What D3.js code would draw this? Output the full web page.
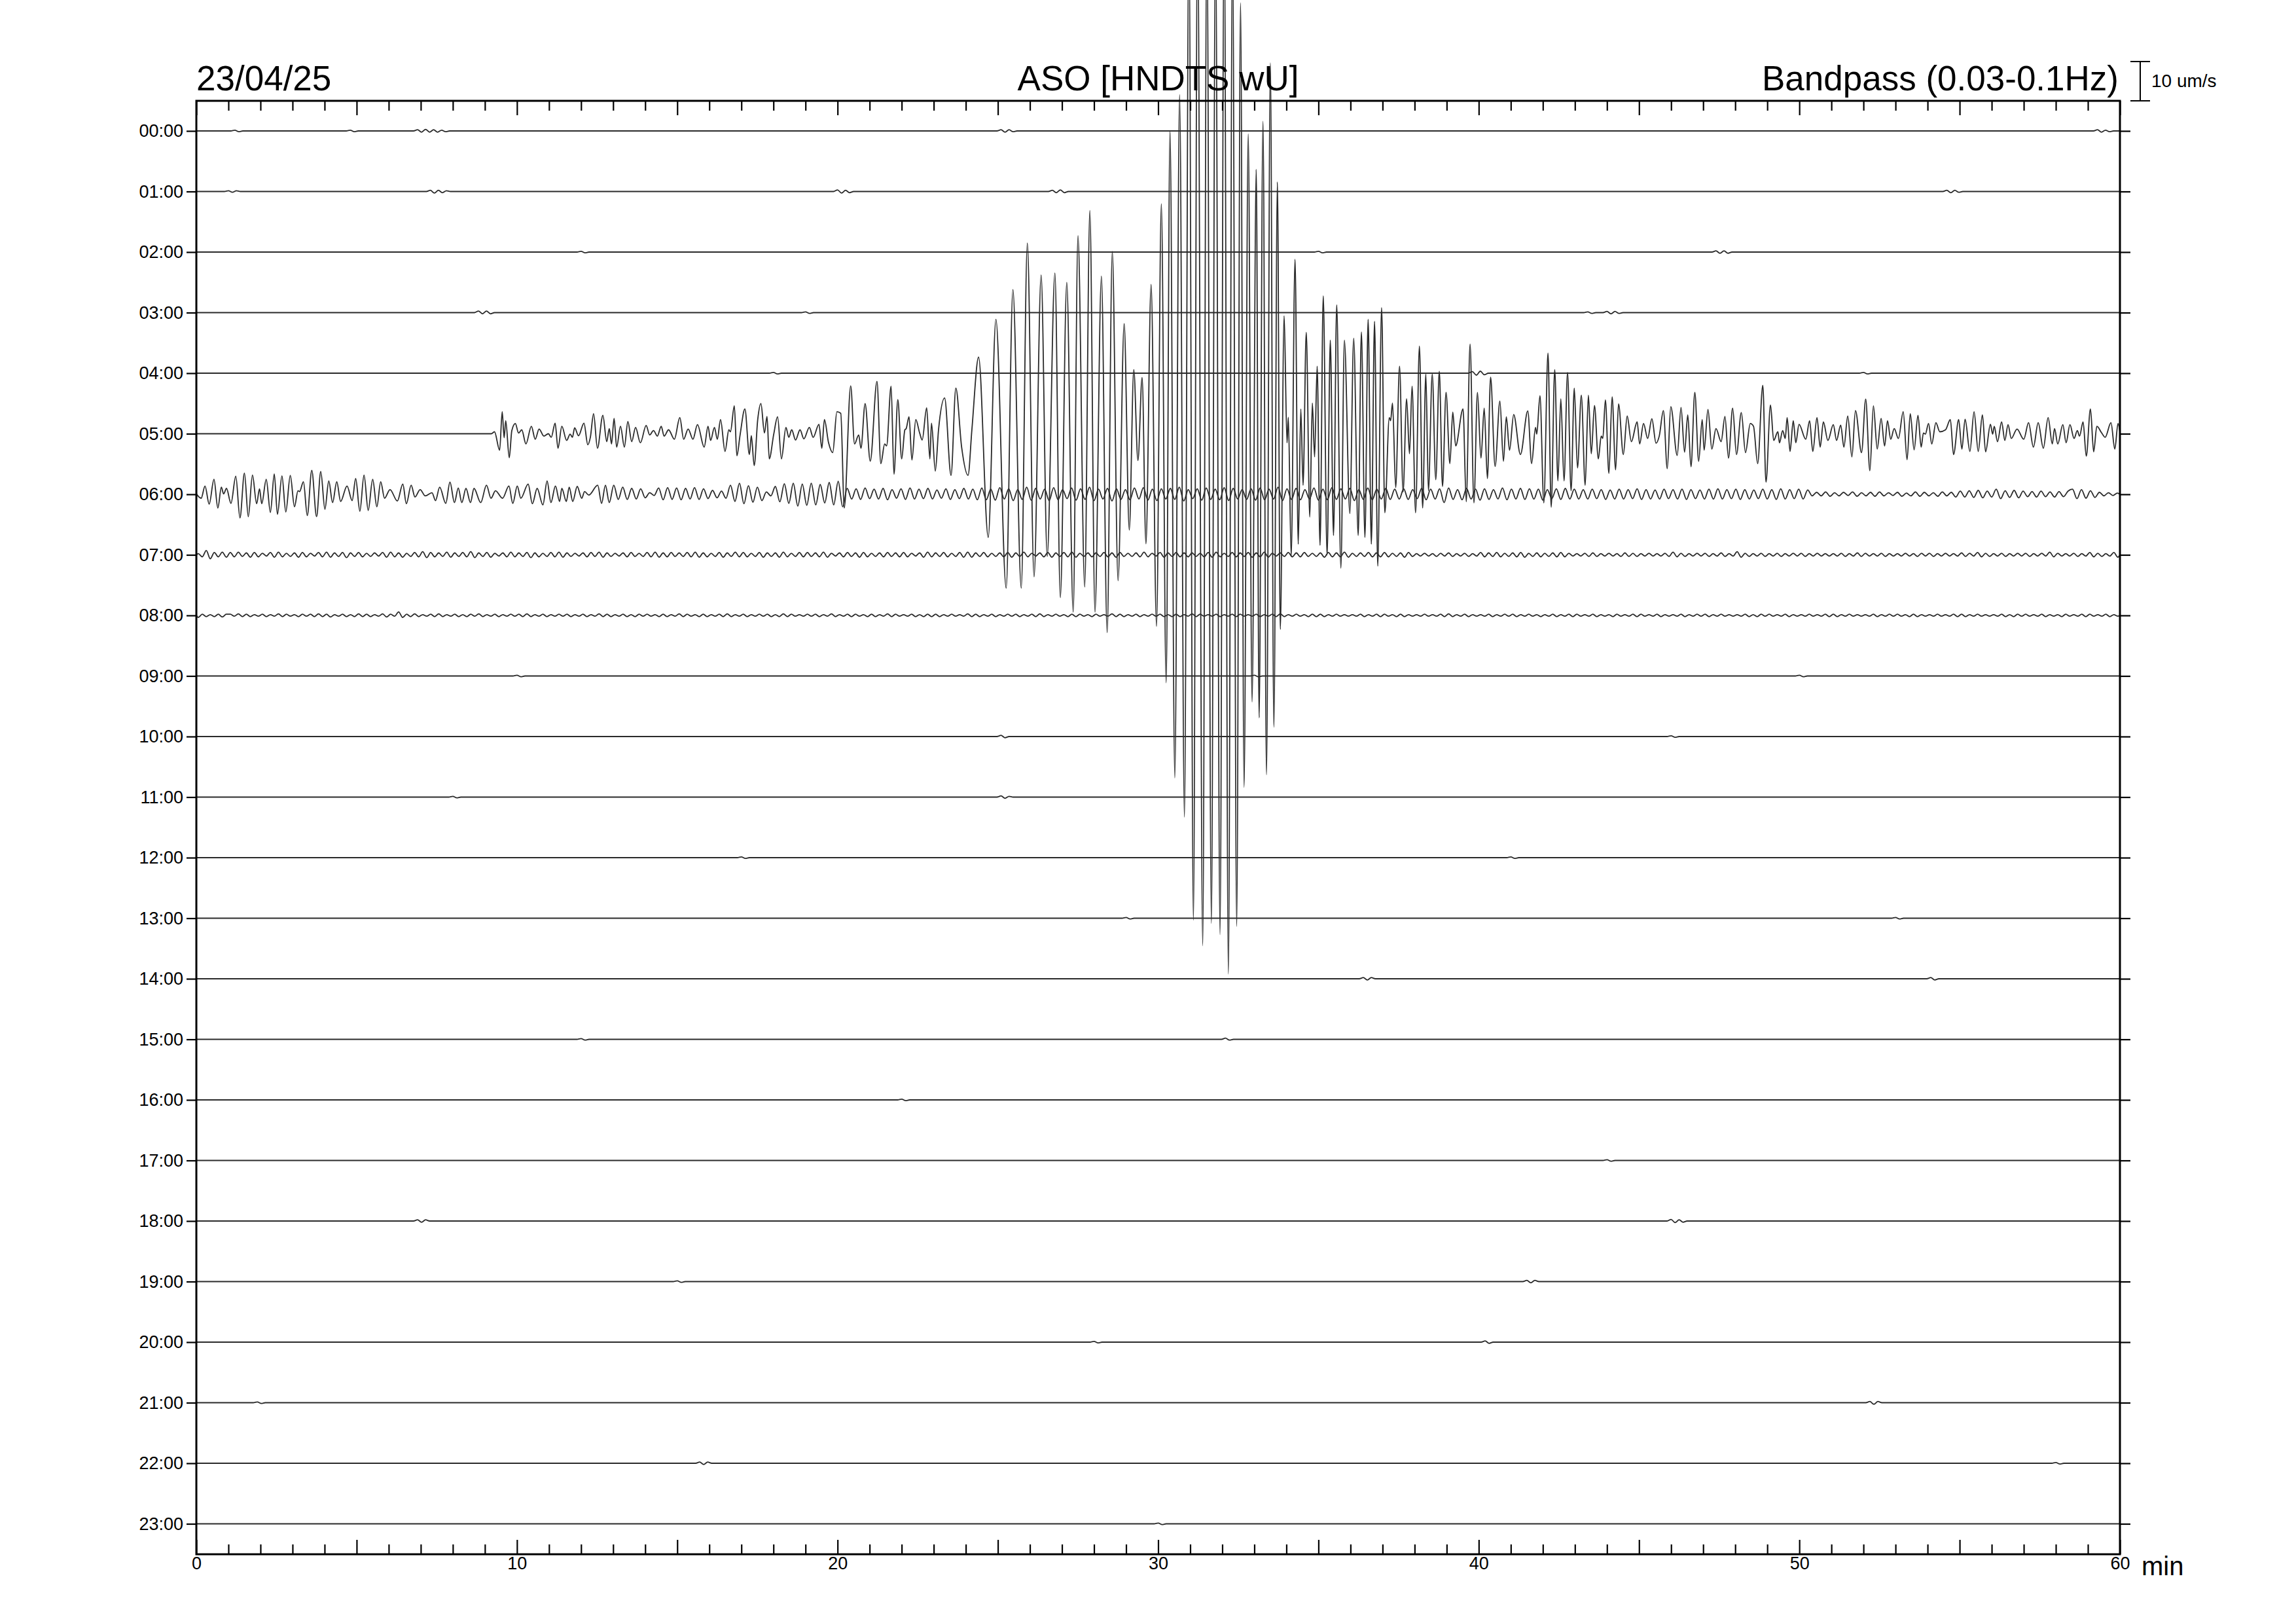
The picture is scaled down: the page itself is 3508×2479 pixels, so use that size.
<!DOCTYPE html>
<html><head><meta charset="utf-8">
<script src="https://cdn.jsdelivr.net/npm/d3@7"></script>
<style>html,body{margin:0;padding:0;background:#fff}svg{display:block}</style>
</head><body>
<svg id="c" width="3508" height="2479"></svg>
<script>
// ---------- texts ----------
const dateLabel = "23/04/25";
const stationLabel = "ASO [HNDTS wU]";
const filterLabel = "Bandpass (0.03-0.1Hz)";
const scaleLabel = "10 um/s";
const xUnitLabel = "min";
const hourLabels = ["00:00","01:00","02:00","03:00","04:00","05:00","06:00","07:00","08:00","09:00","10:00","11:00","12:00","13:00","14:00","15:00","16:00","17:00","18:00","19:00","20:00","21:00","22:00","23:00"];
const minuteLabels = [0,10,20,30,40,50,60];
const scaleBarValue = 10; // um/s

// ---------- 05:00 line: [minute, um/s] extrema ----------
const row05 = [[0,0],[9.2,0],[9.3,0.5],[9.46,-4.2],[9.54,5.6],[9.60,-1],[9.65,3.3],[9.76,-6.1],[9.84,0.8],[9.95,2.6],[10.05,0.2],[10.15,1.0],[10.28,-2.6],[10.45,1.9],[10.57,-1.4],[10.69,1.2],[10.84,-0.6],[10.98,0],[11.07,-0.9],[11.19,2.7],[11.28,-3.7],[11.40,1.9],[11.55,-1.7],[11.66,-0.1],[11.73,-0.9],[11.80,1.5],[11.92,-0.5],[12.09,2.7],[12.21,-2.8],[12.29,-0.9],[12.39,5.1],[12.51,-3.7],[12.68,4.7],[12.80,-2.0],[12.88,1.3],[12.95,-2.6],[13.03,3.9],[13.11,-3.4],[13.23,1.9],[13.35,-3.4],[13.46,3.1],[13.58,-2.0],[13.70,1.6],[13.85,-2.3],[14.03,2.1],[14.14,-0.3],[14.26,0.8],[14.38,-0.6],[14.50,1.9],[14.59,-0.6],[14.73,1.0],[14.91,-1.4],[15.08,4.1],[15.20,-1.4],[15.34,1.2],[15.49,-1.4],[15.63,2.3],[15.84,-3.4],[15.96,1.9],[16.04,-1.7],[16.16,1.6],[16.25,-1.4],[16.35,3.6],[16.49,-4.5],[16.61,1.0],[16.66,0.5],[16.78,7.1],[16.86,-5.6],[16.96,-0.3],[17.11,6.3],[17.25,-5.3],[17.31,-0.5],[17.40,-8.1],[17.51,3.6],[17.61,7.7],[17.72,0.2],[17.80,4.4],[17.87,-6.4],[18.01,-0.1],[18.13,4.3],[18.25,-6.4],[18.39,1.6],[18.48,-0.9],[18.57,1.0],[18.69,-1.6],[18.83,1.0],[18.95,-1.3],[19.12,1.6],[19.24,-0.9],[19.42,2.4],[19.51,-3.7],[19.59,3.6],[19.72,-2.3],[19.85,-4.8],[19.98,5.6],[20.10,5.2],[20.21,-18.9],[20.41,12.2],[20.53,-2.6],[20.66,-0.3],[20.73,-3.7],[20.86,7.7],[21.02,-7.0],[21.23,13.3],[21.35,-7.6],[21.47,-2.6],[21.53,-3.1],[21.67,12.1],[21.76,-10.3],[21.88,8.7],[22.00,-6.4],[22.10,1.0],[22.14,1.3],[22.23,4.3],[22.32,-6.7],[22.44,3.6],[22.56,0.2],[22.64,-1.6],[22.78,6.6],[22.88,-6.4],[22.93,2.7],[23.05,-9.5],[23.15,1.0],[23.34,9.1],[23.54,-10.6],[23.69,11.6],[23.87,-3.4],[24.07,-10.6],[24.19,1.0],[24.40,19.5],[24.70,-26.4],
[24.94,29.1],[25.26,-39.3],[25.47,36.7],[25.73,-39.3],[25.92,48.5],[26.13,-36.4],[26.35,40.4],[26.54,-31.2],[26.78,40.9],[26.95,-41.7],[27.15,38.5],[27.35,-45.4],[27.50,50.4],[27.71,-39.0],[27.87,56.8],[28.03,-45.4],[28.23,40.1],[28.41,-50.6],[28.57,46.4],[28.75,-37.4],[28.94,28.0],[29.10,-24.5],[29.24,16.3],[29.37,-6.8],[29.50,14.3],[29.62,-28.0],[29.78,38.0],[29.95,-49.0],[30.10,58.5],[30.25,-63.4],[30.37,77.1],[30.52,-87.6],[30.67,86.3],[30.82,-97.6],[30.96,128],[31.10,-123.8],[31.23,132],[31.39,-130.3],[31.52,130],[31.66,-124.6],[31.79,128],[31.93,-127.5],[32.06,132],[32.19,-137.5],[32.32,126],[32.45,-125.4],[32.57,109.7],[32.68,-90.0],[32.81,76.3],[32.93,-68.3],[33.06,67.3],[33.15,-72.3],[33.27,79.5],[33.38,-86.8],[33.50,94.4],[33.61,-74.7],[33.72,64.1],[33.81,-49.8],[33.93,30.0],[34.02,-2.3],[34.06,4.2],[34.15,-31.2],[34.27,44.4],[34.37,-28.1],
[34.45,6.3],[34.52,-13.1],[34.62,25.8],[34.73,-21.2],[34.81,7.8],[34.88,-5.9],[34.96,17.2],[35.05,-28.4],[35.15,35.1],[35.27,-30.9],[35.37,23.8],[35.47,-25.9],[35.57,32.8],[35.70,-34.2],[35.81,23.8],[35.98,-20.3],[36.10,24.3],[36.24,-25.9],[36.34,25.9],[36.45,-26.4],[36.55,29.1],[36.65,-28.1],[36.75,28.6],[36.85,-33.7],[36.97,32.1],[37.07,-20.1],[37.21,4.1],[37.25,3.3],[37.31,7.8],[37.41,-13.7],[37.53,17.2],[37.64,-14.8],[37.75,8.9],[37.84,-5.1],[37.92,12.1],[38.03,-20.1],[38.15,22.3],[38.25,-18.9],[38.35,15.2],[38.43,-14.5],[38.55,15.2],[38.66,-11.7],[38.77,15.9],[38.87,-13.4],[38.98,10.5],[39.10,-7.6],[39.19,5.5],[39.28,-3.1],[39.51,6.3],[39.61,-17.3],[39.73,22.8],[39.85,-17.6],[39.96,10.5],[40.07,-6.2],[40.17,6.5],[40.27,-11.4],[40.37,14.4],[40.51,-8.3],[40.66,8.3],[40.77,-7.0],[40.86,4.3],[40.96,-4.2],[41.09,4.9],[41.30,-5.3],[41.53,5.8],[41.65,-7.6],[41.77,1.6],[41.81,-0.1],[41.91,9.7],[42.03,-17.6],[42.16,20.5],[42.26,-18.7],[42.37,16.3],[42.47,-12.0],[42.56,8.9],[42.66,-12.0],[42.77,15.6],[42.88,-14.5],[42.98,11.6],[43.08,-8.7],[43.20,9.8],[43.32,-13.1],[43.42,9.8],[43.51,-5.1],[43.61,7.2],[43.73,-6.4],[43.82,-0.6],[43.87,-1.2],[43.95,8.6],[44.06,-10.1],[44.16,9.4],[44.27,-9.2],[44.36,7.6],[44.51,-5.3],
[44.63,4.5],[44.76,-2.0],[44.94,3.0],[45.02,-2.6],[45.14,2.6],[45.27,-1.2],[45.40,3.8],[45.53,-2.4],[45.63,-0.6],[45.76,5.9],[45.88,-8.9],[45.99,6.9],[46.19,-5.5],[46.31,6.7],[46.42,-4.7],[46.52,4.8],[46.62,-8.4],[46.74,10.5],[46.86,-7.0],[46.97,3.6],[47.03,-4.2],[47.15,6.2],[47.27,-3.9],[47.40,1.3],[47.56,-2.0],[47.68,4.4],[47.79,-6.2],[47.92,6.5],[48.04,-5.3],[48.19,5.4],[48.32,-4.8],[48.47,2.6],[48.57,1.9],[48.70,-7.6],[48.86,12.3],[48.96,-12.3],[49.10,7.3],[49.20,-1.7],[49.33,0.5],[49.38,-2.3],[49.48,0.8],[49.56,-1.2],[49.62,4.1],[49.71,-4.5],[49.81,3.3],[49.89,-2.3],[49.99,2.4],[50.20,-1.4],[50.32,3.3],[50.42,-4.5],[50.55,4.1],[50.65,-3.4],[50.75,3.0],[50.89,-1.7],[51.06,2.3],[51.16,-1.7],[51.29,2.2],[51.39,-3.4],[51.51,4.5],[51.64,-5.9],[51.75,5.9],[51.94,-4.8],[52.07,8.8],[52.20,-9.4],[52.31,7.1],[52.43,-3.9],[52.55,3.9],[52.66,-3.1],[52.75,3.3],[52.85,-1.4],[52.96,1.3],[53.09,-1.2],[53.24,5.6],[53.36,-6.6],[53.46,5.1],[53.58,-4.1],[53.70,4.7],[53.80,-3.4],[53.87,0.2],[53.93,-0.1],[54.03,2.6],[54.13,-2.6],[54.26,2.8],[54.38,0.5],[54.56,1.0],[54.71,3.6],[54.81,-5.3],[54.97,3.6],[55.07,-3.9],[55.17,3.7],[55.32,-4.5],[55.45,5.6],[55.58,-4.5],[55.71,4.8],[55.81,-4.6],[55.96,2.4],[56.03,-0.1],[56.08,1.9],[56.18,-2.0],[56.31,3.0],[56.41,-1.7],[56.51,2.3],[56.61,-1.2],[56.79,1.2],[57.00,-1.4],[57.15,2.8],[57.30,-3.4],[57.45,2.8],[57.61,-3.7],[57.76,4.1],[57.89,-2.6],[57.96,1.3],[58.06,-2.6],[58.22,2.3],[58.32,-2.3],[58.44,2.3],[58.57,-1.2],[58.67,0.8],[58.74,-0.6],[58.85,3.0],[58.95,-5.7],[59.08,6.3],[59.18,-4.6],[59.28,1.9],[59.43,0.2],[59.54,-0.9],[59.72,2.8],[59.84,-3.9],[59.94,2.6],[60,0.5]];

// ---------- 06:00 line, first 13 minutes: [minute, um/s] ----------
const row06a = [[0,0.1],[0.15,-1.0],[0.27,2.1],[0.40,-2.5],[0.55,3.8],[0.67,-3.5],[0.78,1.8],[0.85,0.1],[0.94,1.5],[1.08,-2.3],[1.23,4.6],[1.36,-6.0],[1.50,5.4],[1.62,-5.7],[1.75,4.9],[1.88,-2.4],[1.97,1.4],[2.04,-2.4],[2.18,3.8],[2.31,-4.6],[2.43,5.2],[2.53,-5.1],[2.67,4.7],[2.79,-4.5],[2.93,4.8],[3.06,-3.2],[3.17,0.9],[3.22,0.7],[3.34,3.2],[3.46,-5.4],[3.60,6.1],[3.75,-5.7],[3.88,5.8],[4.01,-3.8],[4.13,3.4],[4.25,-2.1],[4.38,3.2],[4.50,-1.8],[4.70,2.1],[4.86,-1.6],[4.97,4.0],[5.10,-4.3],[5.23,4.9],[5.36,-4.1],[5.50,3.8],[5.63,-3.2],[5.75,3.2],[5.87,-1.0],[6.04,1.2],[6.27,-1.7],[6.44,2.6],[6.55,-2.4],[6.70,2.3],[6.82,-0.7],[6.98,1.2],[7.14,-0.4],[7.35,0.4],[7.46,-1.6],[7.59,1.8],[7.78,-2.3],[7.91,3.1],[8.05,-2.1],[8.17,1.6],[8.28,-2.1],[8.41,1.5],[8.55,-2.1],[8.66,1.5],[8.87,-2.1],[9.05,2.3],[9.19,-1.0],[9.33,0.9],[9.55,-1.0],[9.75,2.1],[9.87,-2.3],[10.01,2.1],[10.12,-1.0],[10.35,2.6],[10.48,-2.4],[10.63,1.5],[10.81,-2.7],[10.94,3.4],[11.06,-2.1],[11.20,2.1],[11.33,-1.8],[11.40,1.5],[11.54,-1.8],[11.63,1.8],[11.74,-1.8],[11.88,2.0],[12.02,-1.0],[12.11,0.7],[12.24,-0.2],[12.52,2.3],[12.64,-2.3],[12.76,2.3],[12.88,-2.1],[13.02,2.3]];

// ---------- 06:00 line after 13 min: extrema every 0.14 min, tenths of um/s ----------
const row06bStart = 13.16, row06bStep = 0.14;
const row06b = [-13,18,-13,15,-12,14,-9,4,-3,16,-14,17,-13,16,-14,15,-12,17,-13,14,-11,10,-9,8,-10,23,-18,28,-24,22,-20,18,-16,6,-4,20,-19,27,-23,28,-30,26,-28,28,-27,25,-22,30,-27,33,-32,
15,-12,14,-13,16,-11,13,-12,15,-14,12,-10,14,-13,16,-12,13,-11,15,-12,11,-10,14,-13,12,-11,15,-12,13,-14,
16,-14,13,-15,17,-12,14,-16,12,-13,18,-15,15,-12,13,-16,17,-14,12,-11,16,-15,14,-13,18,-16,13,-12,15,-17,14,-13,12,-14,16,-12,17,-15,13,-16,14,-12,15,-13,18,-17,12,-11,14,-15,16,-13,13,-14,17,-16,15,-12,12,-13,14,-15,16,-14,13,-12,18,-16,14,-13,15,-14,12,-12,16,-15,13,-14,17,-13,14,-12,15,-16,12,-13,16,-14,13,-12,15,-13,
13,-12,14,-13,12,-11,15,-14,13,-12,14,-21,16,-13,12,-14,15,-12,13,-15,14,-13,12,-12,16,-14,13,-12,15,-13,14,-12,13,-15,12,-11,14,-13,15,-12,13,
-12,12,-12,13,-11,12,-13,11,-12,13,-12,12,-11,14,-13,12,-12,11,-12,13,-11,12,-12,13,-13,12,-11,11,-12,13,-12,14,-12,12,-11,13,-13,12,-12,11,-11,13,-12,12,-13,14,-12,12,-11,13,-12,11,
-4,5,-4,6,-5,4,-4,5,-3,6,-5,4,-4,5,-5,6,-4,4,-3,5,-5,3,-4,6,-5,5,-4,4,-5,6,-4,5,
-7,8,-7,9,-8,10,-9,8,-7,13,-11,9,-8,10,-9,8,
-6,7,-7,8,-6,6,-7,7,-6,8,13,-11,12,-10,9,-8,5,-4,4,-3,3,-2,2];

// ---------- 07:00 line: extrema every 0.125 min, tenths of um/s ----------
const row07Start = 0.06, row07Step = 0.125;
const row07 = [3,-5,11,-10,6,-5,7,-6, 6,-5,7,-4,5,-6,6,-5, 4,-3,6,-6,7,-5,4,-4, 5,-6,6,-5,4,-3,6,-5, 7,-6,5,-4,6,-7,5,-4, 6,-5,4,-4,5,-3,6,-6, 7,-5,5,-6,4,-4,6,-5, 8,-7,6,-5,5,-4,7,-6, 5,-4,6,-5,8,-7,5,-4, 6,-6,4,-3,5,-5,7,-5,
5,-4,6,-7,5,-5,4,-4, 6,-5,7,-6,5,-4,4,-3, 5,-5,6,-4,7,-6,5,-4, 4,-3,5,-5,6,-4,4,-4, 6,-5,7,-6,5,-5,6,-4, 5,-4,6,-5,7,-6,5,-5, 4,-4,6,-6,5,-4,7,-5, 6,-5,4,-4,6,-6,5,-4, 5,-6,7,-5,4,-4,6,-5, 6,-4,5,-5,7,-6,4,-3,
5,-5,6,-4,5,-6,6,-5, 4,-4,5,-5,6,-4,5,-5, 6,-5,4,-3,5,-6,7,-5, 5,-4,6,-5,4,-4,6,-6, 7,-6,5,-4,6,-5,4,-4, 5,-5,6,-6,5,-4,7,-5, 4,-3,5,-5,6,-6,5,-4, 6,-5,7,-6,4,-4,5,-5, 5,-4,6,-5,5,-6,6,-4, 4,-4,5,-5,7,-5,4,-3,
6,-6,5,-4,6,-5,5,-5, 5,-4,4,-5,6,-6,7,-5, 4,-4,6,-5,5,-4,6,-6, 5,-5,7,-6,4,-3,5,-4, 6,-5,5,-5,6,-4,4,-4, 5,-6,6,-5,5,-5,7,-6, 4,-4,5,-4,6,-5,5,-5, 6,-5,4,-4,5,-6,6,-4, 3,-3,4,-3,3,-4,4,-3, 5,-4,3,-3,4,-4,3,-3,
6,-5,5,-4,6,-5,4,-4, 5,-5,6,-6,4,-4,5,-5, 4,-4,5,-5,6,-5,4,-3, 3,-3,4,-4,5,-4,3,-3, 4,-3,3,-4,5,-4,4,-4, 3,-3,4,-3,3,-3,4,-4, 7,-5,4,-4,3,-3,4,-3, 4,-4,3,-3,5,-4,3,-3, 8,-6,4,-4,3,-3,4,-4, 3,-3,4,-4,3,-3,4,-3,
4,-4,3,-3,4,-3,3,-3, 3,-3,4,-4,3,-3,5,-4, 4,-3,3,-3,4,-4,3,-3, 3,-3,4,-3,3,-4,4,-3, 4,-4,3,-3,4,-3,3,-3, 5,-4,4,-3,6,-5,4,-4, 3,-3,4,-4,3,-3,4,-3, 4,-4,3,-3,4,-3,7,-5, 4,-3,3,-3,4,-4,3,-3, 6,-5,4,-4,3,-3,6,-6];

// ---------- 08:00 line: extrema every 0.125 min, tenths of um/s ----------
const row08Start = 0.06, row08Step = 0.125;
const row08 = [-5,3,-3,2,-3,3,-4,3, 3,-2,4,-3,3,-3,2,-2, 3,-3,2,-2,4,-3,3,-2, 2,-3,3,-2,3,-3,4,-3, 3,-4,2,-2,3,-3,2,-3, 4,-3,3,-3,2,-2,4,-4, 3,-2,9,-5,3,-3,4,-3, 2,-2,3,-3,4,-3,2,-2, 3,-3,2,-3,3,-2,4,-3, 2,-2,3,-3,2,-2,3,-2,
3,-3,4,-3,2,-2,3,-3, 2,-2,3,-2,3,-3,2,-2, 3,-3,2,-2,4,-3,3,-3, 2,-2,3,-3,2,-3,3,-2, 3,-2,2,-3,3,-3,2,-2, 4,-3,3,-2,2,-3,3,-3, 2,-2,3,-3,4,-3,2,-2, 3,-3,2,-2,3,-2,3,-3, 2,-3,4,-3,3,-2,2,-2, 3,-2,3,-3,2,-2,4,-3,
2,-2,3,-3,3,-2,2,-3, 3,-3,2,-2,4,-3,3,-2, 2,-2,3,-3,2,-3,3,-3, 3,-3,2,-2,3,-2,2,-2, 4,-3,3,-3,2,-2,3,-3, 2,-2,3,-2,3,-3,2,-2, 3,-3,4,-3,2,-2,3,-2, 2,-3,3,-3,3,-2,2,-3, 3,-2,2,-2,4,-3,3,-3, 2,-2,3,-3,2,-2,3,-2,
3,-3,2,-3,3,-3,2,-2, 4,-3,3,-2,2,-2,3,-3, 2,-2,3,-3,3,-2,2,-2, 3,-3,2,-2,3,-3,4,-3, 2,-2,3,-2,2,-3,3,-3, 3,-3,2,-2,3,-2,2,-2, 2,-2,3,-3,2,-2,3,-3, 3,-2,2,-3,3,-3,2,-2, 2,-2,3,-2,2,-2,3,-3, 4,-3,2,-2,3,-3,2,-2,
2,-2,3,-3,2,-2,3,-2, 3,-3,2,-2,3,-2,2,-3, 2,-2,3,-3,2,-2,3,-3, 3,-2,2,-2,3,-3,2,-2, 2,-3,3,-2,2,-2,3,-3, 3,-2,2,-2,3,-3,2,-2, 2,-2,3,-3,2,-2,3,-2, 3,-3,2,-2,3,-2,2,-2, 2,-2,3,-3,2,-3,3,-2, 3,-2,2,-2,3,-3,2,-2,
2,-2,3,-2,2,-2,3,-3, 3,-3,2,-2,3,-2,2,-2, 2,-2,3,-3,2,-2,3,-2, 3,-2,2,-3,3,-3,2,-2, 2,-2,3,-2,2,-2,3,-3, 3,-3,2,-2,3,-2,2,-2, 2,-2,3,-3,2,-3,3,-2, 3,-2,2,-2,3,-3,2,-2, 2,-3,3,-2,2,-2,3,-3, 3,-2,2,-2,3,-3,2,-2];

// ---------- quiet lines: small wiggles [hour, start minute, extrema in tenths of um/s every 0.125 min] ----------
const blipStep = 0.125;
const quietBlips = [
 [0,1.2,[2,-2]],[0,4.8,[2,-2]],[0,6.9,[3,-3,4,-3,3,-3,2,-2]],[0,25.1,[3,-3,3,-2]],[0,59.3,[3,-3,2,-2]],
 [1,1.0,[2,-2,2]],[1,7.3,[3,-4,3,-3,2]],[1,20.0,[4,-4,3,-3]],[1,26.7,[3,-3,4,-3]],[1,54.6,[3,-3,3,-2]],
 [2,12.0,[2,-2]],[2,35.0,[2,-2]],[2,47.4,[3,-3,3,-3]],
 [3,8.8,[4,-3,4,-3]],[3,19.0,[2,-2]],[3,43.4,[2,-2]],[3,44.0,[3,-3,3,-2]],
 [4,18.0,[2,-2]],[4,39.8,[4,-5,5,-4]],[4,52.0,[2,-2]],
 [9,10.0,[2,-2]],[9,33.0,[2,-2]],[9,50.0,[2,-2]],
 [10,25.1,[3,-3]],[10,46.0,[2,-2]],
 [11,8.0,[2,-2]],[11,25.1,[3,-3,2]],
 [12,17.0,[2,-2]],[12,41.0,[2,-2]],
 [13,29.0,[2,-2]],[13,53.0,[2,-2]],
 [14,36.4,[3,-3,3]],[14,54.1,[3,-3]],
 [15,12.0,[2,-2]],[15,32.1,[3,-2]],
 [16,22.0,[2,-2]],
 [17,44.0,[2,-2]],
 [18,6.9,[3,-3,3]],[18,46.0,[4,-4,3,-3]],
 [19,15.0,[2,-2]],[19,41.5,[3,-3,3]],
 [20,28.0,[2,-2]],[20,40.2,[3,-3]],
 [21,1.9,[2,-2]],[21,52.2,[3,-4,3]],
 [22,15.7,[3,-3,3]],[22,58.0,[2,-2]],
 [23,30.0,[2,-2]]
];

// ---------- build ----------
const W = 3508, H = 2479;
const FONT = "'Liberation Sans', Arial, Helvetica, sans-serif";
const plotL = 300, plotR = 3239, plotT = 154, plotB = 2374;

const svg = d3.select("#c");
svg.append("rect").attr("width", W).attr("height", H).attr("fill", "#fff");

const x = d3.scaleLinear().domain([0, 60]).range([plotL, plotR]);
const rowY = d3.scaleLinear().domain([0, 23]).range([200, 2327.5]);
const amp = d3.scaleLinear().domain([0, 10]).range([0, 60]); // um/s -> px

function uniformSeries(start, step, vals) {
  return vals.map((v, i) => [start + i * step, v / 10]).filter(d => d[0] <= 60);
}
function traceFor(h) {
  let pts;
  if (h === 5) pts = row05.slice();
  else if (h === 6) pts = row06a.concat(uniformSeries(row06bStart, row06bStep, row06b));
  else if (h === 7) pts = uniformSeries(row07Start, row07Step, row07);
  else if (h === 8) pts = uniformSeries(row08Start, row08Step, row08);
  else {
    pts = [];
    quietBlips.filter(b => b[0] === h).sort((a, b) => a[1] - b[1]).forEach(b => {
      const [, t0, vals] = b;
      pts.push([t0 - blipStep, 0]);
      vals.forEach((v, i) => pts.push([t0 + i * blipStep, v / 10]));
      pts.push([t0 + vals.length * blipStep, 0]);
    });
  }
  if (!pts.length || pts[0][0] > 0) pts.unshift([0, 0]);
  if (pts[pts.length - 1][0] < 60) pts.push([60, 0]);
  return pts.filter(d => d[0] >= 0 && d[0] <= 60);
}

// traces
const traceG = svg.append("g").attr("fill", "none").attr("stroke", "#2a2a2a")
  .attr("stroke-width", 1.8).attr("stroke-linejoin", "round");
d3.range(24).forEach(h => {
  const line = d3.line().x(d => x(d[0])).y(d => rowY(h) - amp(d[1])).curve(d3.curveMonotoneX);
  traceG.append("path").attr("d", line(traceFor(h)));
});

// frame
svg.append("rect").attr("x", plotL).attr("y", plotT).attr("width", plotR - plotL).attr("height", plotB - plotT)
  .attr("fill", "none").attr("stroke", "#000").attr("stroke-width", 3);

const minorMinutes = d3.range(0, 61).filter(m => m % 5 !== 0);
const majorMinutes = d3.range(0, 61, 5);
function styleAxis(g) {
  g.select(".domain").remove();
  g.selectAll(".tick line").attr("stroke", "#000").attr("stroke-width", 2.2);
  g.selectAll("text").attr("fill", "#000").attr("font-family", FONT);
}
// top ticks (inward)
svg.append("g").attr("transform", `translate(0,${plotT})`)
  .call(d3.axisBottom(x).tickValues(minorMinutes).tickSize(15).tickFormat("")).call(styleAxis);
svg.append("g").attr("transform", `translate(0,${plotT})`)
  .call(d3.axisBottom(x).tickValues(majorMinutes).tickSize(22).tickFormat("")).call(styleAxis);
// bottom ticks (inward)
svg.append("g").attr("transform", `translate(0,${plotB})`)
  .call(d3.axisTop(x).tickValues(minorMinutes).tickSize(15).tickFormat("")).call(styleAxis);
svg.append("g").attr("transform", `translate(0,${plotB})`)
  .call(d3.axisTop(x).tickValues(majorMinutes).tickSize(22).tickFormat("")).call(styleAxis);
// bottom labels
svg.append("g").attr("transform", `translate(0,${plotB})`)
  .call(d3.axisBottom(x).tickValues(minuteLabels).tickSize(0).tickPadding(4).tickFormat(d3.format("d")))
  .call(styleAxis).selectAll("text").attr("font-size", 27);

// hour labels + side ticks
svg.append("g").attr("transform", `translate(${plotL},0)`)
  .call(d3.axisLeft(rowY).tickValues(d3.range(24)).tickSize(15).tickPadding(5).tickFormat(i => hourLabels[i]))
  .call(styleAxis).selectAll("text").attr("font-size", 27);
svg.append("g").attr("transform", `translate(${plotR},0)`)
  .call(d3.axisRight(rowY).tickValues(d3.range(24)).tickSize(16).tickFormat(""))
  .call(styleAxis);

// header texts
svg.append("text").attr("x", plotL).attr("y", 138).attr("font-family", FONT).attr("font-size", 53).text(dateLabel);
svg.append("text").attr("x", (plotL + plotR) / 2).attr("y", 138).attr("text-anchor", "middle")
  .attr("font-family", FONT).attr("font-size", 53).text(stationLabel);
svg.append("text").attr("x", plotR - 2).attr("y", 138).attr("text-anchor", "end")
  .attr("font-family", FONT).attr("font-size", 53).text(filterLabel);

// scale bar
const sbX = 3270, sbBottom = plotT, sbTop = plotT - amp(scaleBarValue);
const sb = svg.append("g").attr("stroke", "#000").attr("stroke-width", 2);
sb.append("line").attr("x1", sbX).attr("x2", sbX).attr("y1", sbTop).attr("y2", sbBottom);
sb.append("line").attr("x1", sbX - 15).attr("x2", sbX + 15).attr("y1", sbTop).attr("y2", sbTop);
sb.append("line").attr("x1", sbX - 15).attr("x2", sbX + 15).attr("y1", sbBottom).attr("y2", sbBottom);
svg.append("text").attr("x", 3287).attr("y", 133).attr("font-family", FONT).attr("font-size", 28).text(scaleLabel);

// unit
svg.append("text").attr("x", 3272).attr("y", 2406).attr("font-family", FONT).attr("font-size", 40).text(xUnitLabel);
</script>
</body></html>
